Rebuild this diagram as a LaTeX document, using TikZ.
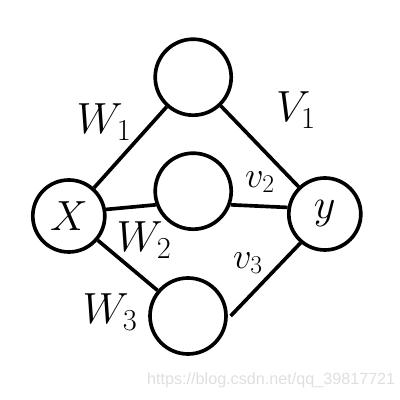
\RequirePackage{fix-cm}
\documentclass[tikz,border=0pt]{standalone}
\usepackage{fontspec}
\newfontfamily\markfont{Liberation Sans}
\usetikzlibrary{positioning}

\begin{document}
\begin{tikzpicture}[line width=2.6pt,
    unit/.style={draw, circle, minimum size=1.9cm, inner sep=0pt},
    weight/.style={font=\fontsize{31}{31}\selectfont},
    smallweight/.style={font=\fontsize{26}{26}\selectfont}]
\useasboundingbox (0,0) rectangle (10,10);

% Input and output
\node[unit, minimum size=1.8cm, font=\fontsize{30}{30}\selectfont] (x) at (1.72,4.6) {$X$};
\node[unit, minimum size=1.8cm, font=\fontsize{30}{30}\selectfont] (y) at (8.12,4.65) {$y$};

% Hidden units
\node[unit] (h1) at (4.83,8.07) {};
\node[unit] (h2) at (4.83,5.22) {};
\node[unit] (h3) at (4.7,2.1) {};

% Connections
\draw (x) -- (h1);
\draw (h1) -- (y);
\draw (x.10) -- (h2.200);
\draw (h2.-20) -- (y.170);
\draw (x) -- (h3);
\draw ([xshift=2pt]h3.east) -- (y.230);

% Weight labels
\node[weight] (w1) at (2.6,6.95) {$W_1$};
\node[weight] (w2) at (3.6,4.0) {$W_2$};
\node[weight] (w3) at (2.75,2.2) {$W_3$};
\node[weight] (v1) at (7.4,7.25) {$V_1$};
\node[smallweight] (v2) at (6.5,5.45) {$v_2$};
\node[smallweight] (v3) at (6.2,3.42) {$v_3$};

% Watermark
\node[font=\markfont\fontsize{11.5}{11.5}\selectfont, text=gray!25] (mark) at (6.78,0.5) {https://blog.csdn.net/qq\_39817721};

\end{tikzpicture}
\end{document}
